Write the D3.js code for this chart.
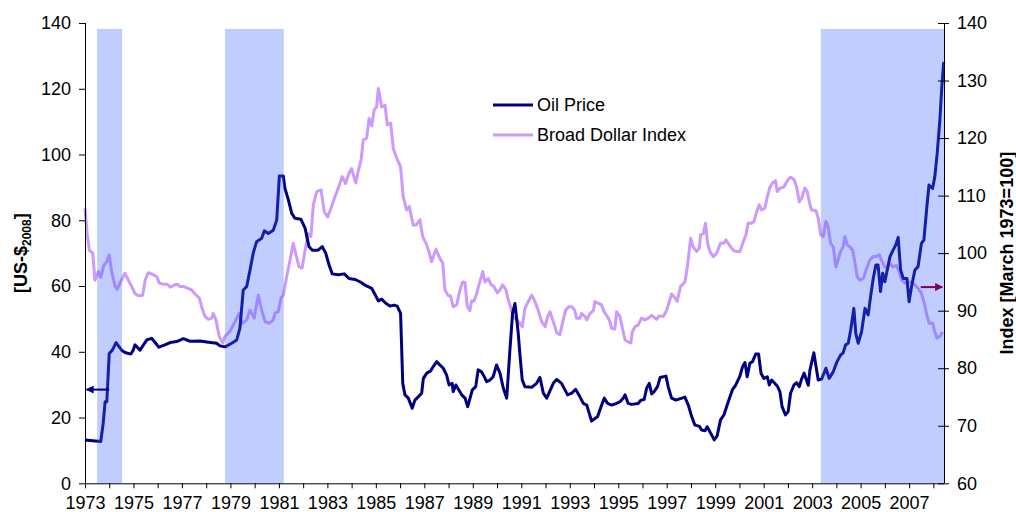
<!DOCTYPE html>
<html>
<head>
<meta charset="utf-8">
<script src="https://cdn.jsdelivr.net/npm/d3@7"></script>
<style>
	body { margin: 0; background: #fff; }
	svg { display: block; font-family: "Liberation Sans", Arial, sans-serif; }
	.axis path, .axis line { stroke: #000; }
	.axis text { font-size: 18px; fill: #000; }
	.axistitle { font-size: 18px; font-weight: bold; fill: #000; }
	.legend text { font-size: 18px; fill: #000; }
</style>
</head>
<body>
<svg class="chart"></svg>
<script>
/* Oil price vs. broad dollar index, 1973-2008 */

// Oil price [US-$ 2008], [decimal year, value]
var oilPrice = [
	[1973.00,13.2],[1973.65,12.7],[1973.75,18.2],[1973.83,24.8],[1973.90,24.8],[1974.00,39.5],[1974.13,40.5],[1974.28,42.8],
	[1974.51,40.5],[1974.65,39.8],[1974.89,39.3],[1974.99,40.5],[1975.06,42.1],[1975.27,40.5],[1975.55,43.6],[1975.75,44.1],
	[1976.05,41.4],[1976.30,42.1],[1976.51,42.8],[1976.78,43.1],[1977.06,44.0],[1977.33,43.2],[1977.74,43.3],[1978.02,43.0],
	[1978.43,42.6],[1978.57,41.8],[1978.78,41.5],[1979.05,42.6],[1979.26,43.6],[1979.39,47.1],[1979.53,58.8],[1979.67,59.8],
	[1979.81,64.9],[1979.94,70.0],[1980.08,73.5],[1980.29,74.5],[1980.40,76.8],[1980.56,76.0],[1980.77,77.0],[1980.91,80.1],
	[1981.02,93.5],[1981.18,93.5],[1981.25,89.7],[1981.39,86.2],[1981.53,82.1],[1981.66,80.6],[1981.91,80.3],[1982.08,77.6],
	[1982.24,72.0],[1982.38,70.9],[1982.62,70.9],[1982.79,72.0],[1982.93,70.0],[1983.07,66.4],[1983.20,63.7],[1983.45,63.4],
	[1983.70,63.7],[1983.89,62.3],[1984.14,62.0],[1984.34,61.3],[1984.55,60.3],[1984.83,59.3],[1984.96,57.5],[1985.10,55.5],
	[1985.24,56.0],[1985.42,54.7],[1985.58,53.9],[1985.75,54.2],[1985.88,53.9],[1986.02,51.7],[1986.11,30.4],[1986.20,26.9],
	[1986.34,25.9],[1986.50,22.8],[1986.61,25.3],[1986.75,26.3],[1986.89,27.4],[1986.96,31.9],[1987.10,33.5],[1987.26,34.2],
	[1987.37,35.5],[1987.51,37.0],[1987.64,36.0],[1987.78,35.0],[1987.92,32.9],[1988.02,29.9],[1988.15,30.4],[1988.19,27.9],
	[1988.30,29.9],[1988.54,26.9],[1988.68,25.9],[1988.79,23.3],[1988.98,28.4],[1989.12,29.4],[1989.22,34.5],[1989.36,33.9],
	[1989.46,32.6],[1989.57,30.9],[1989.71,31.4],[1989.84,32.4],[1989.98,36.0],[1990.12,33.5],[1990.26,28.9],[1990.40,25.9],
	[1990.53,40.5],[1990.64,51.7],[1990.74,54.7],[1990.87,46.0],[1990.94,39.5],[1991.04,31.4],[1991.15,29.4],[1991.43,29.2],
	[1991.63,30.4],[1991.77,32.2],[1991.91,27.4],[1992.05,25.9],[1992.32,30.4],[1992.46,31.6],[1992.66,30.4],[1992.91,26.9],
	[1993.08,27.4],[1993.24,28.6],[1993.42,26.3],[1993.56,24.3],[1993.70,23.8],[1993.90,18.9],[1994.15,20.3],[1994.29,23.3],
	[1994.42,25.9],[1994.56,24.3],[1994.73,23.8],[1994.93,24.3],[1995.07,24.8],[1995.21,25.9],[1995.28,26.9],[1995.41,24.3],
	[1995.55,24.0],[1995.82,24.3],[1995.94,25.3],[1996.07,25.5],[1996.17,28.9],[1996.28,30.4],[1996.38,27.2],[1996.48,27.9],
	[1996.62,29.4],[1996.73,32.2],[1996.97,32.6],[1997.06,29.4],[1997.20,25.9],[1997.38,25.3],[1997.75,26.2],[1997.89,23.8],
	[1998.03,20.3],[1998.16,17.7],[1998.34,17.4],[1998.44,16.2],[1998.58,16.0],[1998.67,17.2],[1998.89,14.2],[1998.96,13.2],
	[1999.08,14.4],[1999.22,19.3],[1999.36,20.8],[1999.47,23.3],[1999.61,26.3],[1999.72,28.6],[1999.85,29.9],[2000.02,32.6],
	[2000.13,35.5],[2000.23,36.7],[2000.32,32.4],[2000.43,36.5],[2000.54,37.0],[2000.67,39.3],[2000.79,39.3],[2000.89,33.5],
	[2001.01,31.9],[2001.15,32.4],[2001.23,29.9],[2001.33,31.4],[2001.56,29.6],[2001.67,27.9],[2001.76,23.3],[2001.90,20.8],
	[2002.01,21.8],[2002.11,27.4],[2002.25,29.9],[2002.36,30.6],[2002.47,29.4],[2002.56,31.6],[2002.67,33.5],[2002.84,29.8],
	[2002.91,34.5],[2003.07,39.7],[2003.25,31.4],[2003.39,31.7],[2003.57,35.0],[2003.70,31.9],[2003.87,33.9],[2004.01,36.7],
	[2004.17,39.0],[2004.28,39.7],[2004.38,42.1],[2004.49,42.6],[2004.59,46.6],[2004.72,53.2],[2004.80,45.6],[2004.90,42.6],
	[2005.04,46.1],[2005.18,53.2],[2005.31,51.2],[2005.41,56.7],[2005.52,62.3],[2005.63,66.4],[2005.72,66.4],[2005.82,58.3],
	[2005.91,63.9],[2006.00,61.3],[2006.21,68.9],[2006.34,70.9],[2006.45,72.5],[2006.55,74.8],[2006.65,64.9],[2006.76,62.3],
	[2006.91,62.3],[2007.00,55.2],[2007.10,59.8],[2007.24,64.9],[2007.37,65.9],[2007.51,73.0],[2007.61,74.0],[2007.72,83.1],
	[2007.82,90.7],[2007.97,89.7],[2008.06,93.2],[2008.16,100.4],[2008.27,110.5],[2008.35,120.6],[2008.43,128.2]
];

// Broad dollar index [March 1973=100], [decimal year, value]
var dollarIndex = [
	[1973.00,107.8],[1973.09,103.4],[1973.18,100.5],[1973.32,100.0],[1973.41,95.3],[1973.55,96.8],[1973.65,95.8],[1973.78,97.9],
	[1973.90,98.5],[1974.00,99.7],[1974.10,96.8],[1974.24,94.2],[1974.33,93.7],[1974.44,94.8],[1974.65,96.5],[1974.79,95.3],
	[1974.93,94.2],[1975.06,93.0],[1975.20,92.6],[1975.38,92.7],[1975.48,95.3],[1975.61,96.6],[1975.75,96.4],[1975.96,95.9],
	[1976.07,94.8],[1976.23,94.6],[1976.40,94.6],[1976.51,94.1],[1976.71,94.5],[1976.81,94.6],[1976.92,94.2],[1977.08,94.2],
	[1977.40,93.6],[1977.54,92.9],[1977.72,92.2],[1977.81,90.7],[1977.95,89.0],[1978.09,88.5],[1978.23,88.7],[1978.29,89.5],
	[1978.40,88.4],[1978.54,85.5],[1978.68,84.4],[1978.78,85.6],[1978.98,86.4],[1979.19,88.1],[1979.35,89.5],[1979.49,87.8],
	[1979.67,88.4],[1979.81,90.1],[1979.98,88.7],[1980.15,92.7],[1980.29,90.1],[1980.43,88.1],[1980.59,87.8],[1980.77,88.4],
	[1980.84,89.6],[1980.97,89.8],[1981.09,92.2],[1981.18,92.7],[1981.32,95.9],[1981.46,98.8],[1981.59,101.7],[1981.69,100.0],
	[1981.83,97.6],[1981.96,97.4],[1982.08,100.5],[1982.21,103.4],[1982.32,102.9],[1982.42,108.4],[1982.56,110.7],[1982.74,111.0],
	[1982.87,107.2],[1983.01,106.3],[1983.15,107.8],[1983.31,109.8],[1983.45,111.3],[1983.61,113.3],[1983.75,112.1],[1983.89,113.9],
	[1984.00,114.7],[1984.17,112.2],[1984.27,114.2],[1984.39,116.2],[1984.48,119.7],[1984.62,120.0],[1984.72,123.4],[1984.83,122.1],
	[1984.93,124.9],[1985.03,125.4],[1985.10,128.6],[1985.17,127.2],[1985.24,125.4],[1985.38,125.7],[1985.47,122.3],[1985.61,122.6],
	[1985.72,118.2],[1985.86,116.5],[1986.02,115.0],[1986.13,109.8],[1986.27,107.5],[1986.38,108.1],[1986.44,106.9],[1986.54,104.9],
	[1986.67,104.9],[1986.82,105.8],[1986.93,102.9],[1987.10,101.4],[1987.20,100.1],[1987.30,98.5],[1987.48,100.7],[1987.64,99.1],
	[1987.76,98.3],[1987.85,93.6],[1987.99,92.6],[1988.08,92.6],[1988.19,90.7],[1988.33,91.0],[1988.47,93.6],[1988.58,95.0],
	[1988.68,94.9],[1988.77,90.7],[1988.88,90.0],[1988.95,91.7],[1989.05,91.7],[1989.16,93.0],[1989.29,95.0],[1989.41,96.8],
	[1989.50,95.0],[1989.64,95.6],[1989.74,94.6],[1989.87,94.2],[1990.01,93.1],[1990.12,93.6],[1990.23,94.5],[1990.37,93.6],
	[1990.46,91.9],[1990.56,90.6],[1990.67,89.0],[1990.81,88.4],[1990.94,87.8],[1991.04,87.2],[1991.15,90.4],[1991.29,91.6],
	[1991.43,92.7],[1991.53,91.9],[1991.67,90.4],[1991.84,88.1],[1991.98,87.2],[1992.09,89.0],[1992.18,89.8],[1992.32,88.1],
	[1992.46,86.2],[1992.59,85.8],[1992.73,88.4],[1992.83,90.1],[1992.97,90.7],[1993.09,90.7],[1993.21,90.0],[1993.28,88.7],
	[1993.42,88.7],[1993.49,89.5],[1993.63,89.0],[1993.70,88.4],[1993.83,89.5],[1993.97,90.0],[1994.04,91.6],[1994.17,91.3],
	[1994.31,91.0],[1994.42,89.8],[1994.52,89.2],[1994.63,88.4],[1994.73,86.9],[1994.86,86.8],[1994.93,89.8],[1995.07,89.0],
	[1995.16,87.2],[1995.28,84.9],[1995.41,84.6],[1995.52,84.4],[1995.58,86.3],[1995.69,87.2],[1995.82,87.5],[1995.96,88.7],
	[1996.10,88.4],[1996.24,88.7],[1996.38,89.2],[1996.58,88.5],[1996.68,89.1],[1996.86,89.0],[1997.00,90.1],[1997.20,92.9],
	[1997.34,92.2],[1997.43,91.6],[1997.57,94.2],[1997.75,95.0],[1997.85,97.6],[1997.99,102.6],[1998.09,101.1],[1998.23,100.3],
	[1998.34,100.8],[1998.40,103.2],[1998.51,103.4],[1998.60,105.2],[1998.69,101.7],[1998.78,100.3],[1998.92,99.4],[1999.06,100.0],
	[1999.22,101.7],[1999.36,101.7],[1999.44,102.3],[1999.64,101.1],[1999.77,100.4],[1999.88,100.3],[2000.02,100.3],[2000.16,102.0],
	[2000.27,103.2],[2000.36,105.2],[2000.50,105.2],[2000.60,105.5],[2000.71,107.2],[2000.82,108.4],[2000.91,107.5],[2001.05,107.8],
	[2001.15,109.8],[2001.26,111.5],[2001.37,112.2],[2001.49,112.6],[2001.56,110.7],[2001.67,111.3],[2001.83,111.5],[2002.01,112.8],
	[2002.11,113.2],[2002.25,112.8],[2002.36,111.5],[2002.47,108.9],[2002.56,109.5],[2002.70,111.3],[2002.80,110.7],[2002.91,108.4],
	[2002.98,107.5],[2003.15,107.4],[2003.25,106.1],[2003.35,103.2],[2003.46,102.9],[2003.57,105.5],[2003.66,104.6],[2003.76,101.7],
	[2003.87,101.1],[2003.98,97.6],[2004.07,98.8],[2004.17,100.3],[2004.28,101.1],[2004.35,102.9],[2004.45,101.4],[2004.56,101.1],
	[2004.67,100.5],[2004.76,98.5],[2004.86,95.9],[2004.97,95.3],[2005.11,95.6],[2005.25,97.4],[2005.38,98.8],[2005.52,99.4],
	[2005.63,99.4],[2005.77,99.7],[2005.86,98.8],[2006.00,97.6],[2006.12,97.6],[2006.21,98.2],[2006.34,97.6],[2006.48,97.9],
	[2006.59,96.8],[2006.69,95.3],[2006.83,94.8],[2006.96,94.9],[2007.10,95.0],[2007.24,94.5],[2007.37,93.9],[2007.51,93.0],
	[2007.61,91.6],[2007.72,89.5],[2007.83,87.8],[2007.97,87.8],[2008.06,86.3],[2008.16,85.2],[2008.27,85.5],[2008.38,86.3]
];

// Shaded periods [start, end] in decimal years
var shadedPeriods = [[1973.50, 1974.53], [1978.78, 1981.20], [2003.36, 2008.44]];
var shadeTop = 138.2;

var xStart = 1973, xEnd = 2008.44;
var yearTicks = d3.range(1973, 2009);
var leftTicks = d3.range(0, 141, 20);
var rightTicks = d3.range(60, 141, 10);

var seriesNames = ["Oil Price", "Broad Dollar Index"];
var seriesColors = ["#000080", "#cc99ff"];

// Arrows pointing at the axis each series belongs to
var oilArrow = { from: 1974.0, to: 1973.06, value: 28.5 };
var dollarArrow = { from: 2007.48, to: 2008.37, value: 94.1 };

var width = 1016, height = 512;
var margin = { left: 85, right: 72, top: 23, bottom: 28.7 };

var svg = d3.select(".chart")
	.attr("width", width)
	.attr("height", height);

var x = d3.scaleLinear()
	.domain([xStart, xEnd])
	.range([margin.left, width - margin.right]);

var yLeft = d3.scaleLinear()
	.domain([0, 140])
	.range([height - margin.bottom, margin.top]);

var yRight = d3.scaleLinear()
	.domain([60, 140])
	.range([height - margin.bottom, margin.top]);

var defs = svg.append("defs");

// fine dotted texture for the shaded bands
var pat = defs.append("pattern")
	.attr("id", "dots")
	.attr("width", 3).attr("height", 3)
	.attr("patternUnits", "userSpaceOnUse");
pat.append("rect").attr("width", 3).attr("height", 3).attr("fill", "#3f66ff");
pat.append("rect").attr("width", 1).attr("height", 1).attr("fill", "#2a50f0");

function addArrowHead(id, color, orientStart) {
	defs.append("marker")
		.attr("id", id)
		.attr("markerUnits", "userSpaceOnUse")
		.attr("viewBox", "0 0 10 10")
		.attr("refX", 9).attr("refY", 5)
		.attr("markerWidth", 9).attr("markerHeight", 8)
		.attr("orient", "auto")
	  .append("path")
		.attr("d", "M0,0 L10,5 L0,10 z")
		.attr("fill", color);
}
addArrowHead("arrowOil", "#000080");
addArrowHead("arrowDollar", "#800060");

var line = function(yScale) {
	return d3.line()
		.x(function(d) { return x(d[0]); })
		.y(function(d) { return yScale(d[1]); });
};

// Lines first, the shading lies on top of them
svg.append("path")
	.datum(dollarIndex)
	.attr("fill", "none")
	.attr("stroke", seriesColors[1])
	.attr("stroke-width", 3)
	.attr("stroke-linejoin", "round")
	.attr("d", line(yRight));

svg.append("path")
	.datum(oilPrice)
	.attr("fill", "none")
	.attr("stroke", seriesColors[0])
	.attr("stroke-width", 3)
	.attr("stroke-linejoin", "round")
	.attr("d", line(yLeft));

svg.selectAll(".shade")
	.data(shadedPeriods)
  .enter().append("rect")
	.attr("class", "shade")
	.attr("x", function(d) { return x(d[0]); })
	.attr("width", function(d) { return x(d[1]) - x(d[0]); })
	.attr("y", yLeft(shadeTop))
	.attr("height", yLeft(0) - yLeft(shadeTop))
	.attr("fill", "url(#dots)")
	.attr("opacity", 0.32);

// Axes
var xAxis = d3.axisBottom(x)
	.tickValues(yearTicks)
	.tickSize(5)
	.tickPadding(8)
	.tickFormat(function(d) { return (d - 1973) % 2 === 0 ? d : ""; });

svg.append("g")
	.attr("class", "x axis")
	.attr("transform", "translate(0," + yLeft(0) + ")")
	.call(xAxis)
	.call(function(g) { g.select(".domain").attr("d", "M" + x(xStart) + ",0.5H" + x(xEnd)); });

svg.append("g")
	.attr("class", "y axis")
	.attr("transform", "translate(" + x(xStart) + ",0)")
	.call(d3.axisLeft(yLeft).tickValues(leftTicks).tickSize(6).tickPadding(8))
	.call(function(g) { g.select(".domain").attr("d", "M0.5," + yLeft(0) + "V" + yLeft(140)); });

svg.append("g")
	.attr("class", "y2 axis")
	.attr("transform", "translate(" + x(xEnd) + ",0)")
	.call(d3.axisRight(yRight).tickValues(rightTicks).tickSize(5).tickPadding(8))
	.call(function(g) {
		g.select(".domain").attr("d", "M0.5," + yRight(60) + "V" + yRight(140));
		g.selectAll(".tick line").attr("x1", -6);
	});

// Axis titles
var leftTitle = svg.append("text")
	.attr("class", "axistitle")
	.attr("text-anchor", "middle")
	.attr("transform", "translate(27," + ((yLeft(0) + yLeft(140)) / 2) + ") rotate(-90)");
leftTitle.append("tspan").text("[US-$");
leftTitle.append("tspan").attr("dy", 4).attr("font-size", "12px").text("2008");
leftTitle.append("tspan").attr("dy", -4).text("]");

svg.append("text")
	.attr("class", "axistitle")
	.attr("text-anchor", "middle")
	.attr("transform", "translate(1013," + ((yRight(60) + yRight(140)) / 2) + ") rotate(-90)")
	.text("Index [March 1973=100]");

// Arrows
svg.append("line")
	.attr("x1", x(oilArrow.from)).attr("x2", x(oilArrow.to))
	.attr("y1", yLeft(oilArrow.value)).attr("y2", yLeft(oilArrow.value))
	.attr("stroke", "#000080").attr("stroke-width", 2)
	.attr("marker-end", "url(#arrowOil)");

svg.append("line")
	.attr("x1", x(dollarArrow.from)).attr("x2", x(dollarArrow.to))
	.attr("y1", yRight(dollarArrow.value)).attr("y2", yRight(dollarArrow.value))
	.attr("stroke", "#800060").attr("stroke-width", 2)
	.attr("marker-end", "url(#arrowDollar)");

// Legend
var legend = svg.append("g")
	.attr("class", "legend")
	.attr("transform", "translate(493,105)");

var item = legend.selectAll("g")
	.data(seriesNames)
  .enter().append("g")
	.attr("transform", function(d, i) { return "translate(0," + i * 30 + ")"; });

item.append("line")
	.attr("x1", 0).attr("x2", 40)
	.attr("stroke", function(d, i) { return seriesColors[i]; })
	.attr("stroke-width", 3);

item.append("text")
	.attr("x", 44)
	.attr("dy", "0.35em")
	.text(function(d) { return d; });
</script>
</body>
</html>
